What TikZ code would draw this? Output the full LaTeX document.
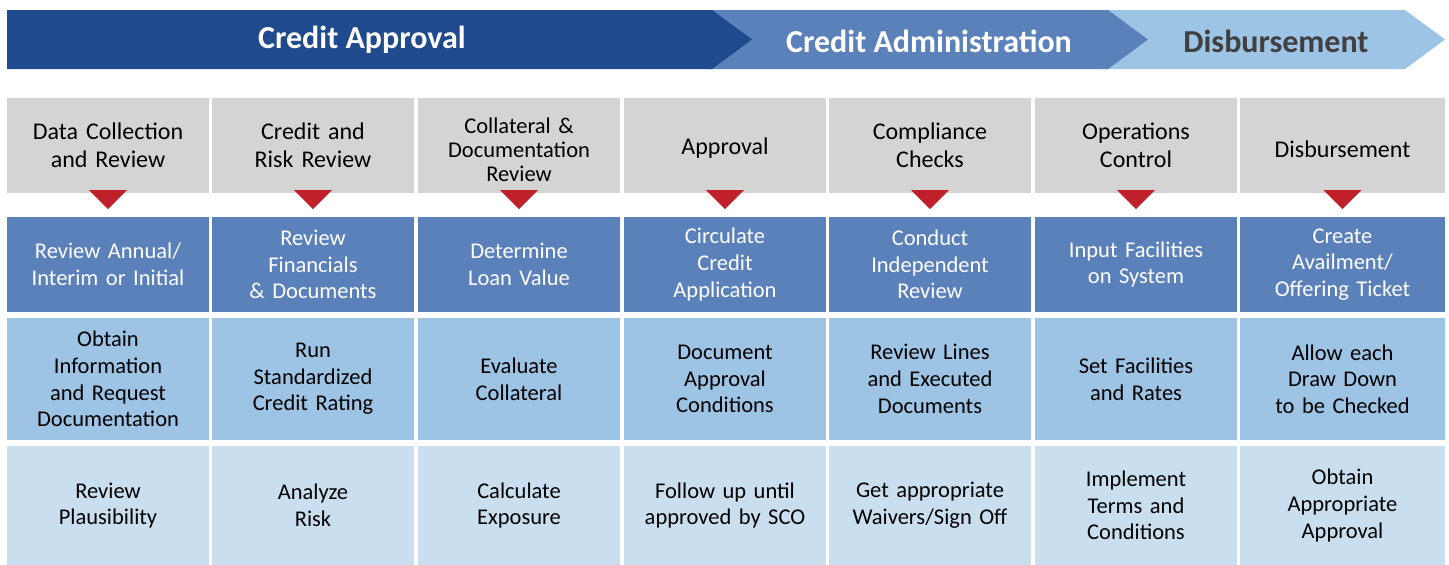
\documentclass[tikz,border=0pt]{standalone}
\usepackage{fontspec}
\setmainfont{Carlito}
\definecolor{bdark}{HTML}{1F4B8E}
\definecolor{bmid}{HTML}{5A81B9}
\definecolor{blight}{HTML}{9DC3E5}
\definecolor{rowthree}{HTML}{C9DFEF}
\definecolor{hgray}{HTML}{D4D4D4}
\definecolor{tred}{HTML}{C0202A}
\definecolor{dtext}{HTML}{404040}
\begin{document}
\begin{tikzpicture}[x=1pt,y=-1pt,
  cell/.style={inner sep=0pt, minimum width=202pt, text width=198pt, align=center, font=\fontsize{22.5}{26.7}\selectfont},
  hcell/.style={cell, fill=hgray, minimum height=95pt, text=black, font=\fontsize{24}{28.3}\selectfont},
  acell/.style={cell, fill=bmid, minimum height=95pt, text=white},
  bcell/.style={cell, fill=blight, minimum height=122pt, text=black},
  ccell/.style={cell, fill=rowthree, minimum height=119pt, text=black},
  banner/.style={font=\fontsize{32}{36}\selectfont\bfseries},
  redtri/.style={fill=tred}]
\useasboundingbox (0,0) rectangle (1449,565);
% banner
\fill[blight] (1100,10) -- (1405,10) -- (1445,39.5) -- (1405,69) -- (1100,69) -- cycle;
\fill[bmid] (705,10) -- (1108,10) -- (1148,39.5) -- (1108,69) -- (705,69) -- cycle;
\fill[bdark] (7,10) -- (712,10) -- (752,39.5) -- (712,69) -- (7,69) -- cycle;
\node[banner, text=white] (ph1) at (362,39.5) {Credit Approval};
\node[banner, text=white] (ph2) at (929,41) {Credit Administration};
\node[banner, text=dtext] (ph3) at (1276,41) {Disbursement};
% column 1
\node[hcell] (h1) at (108,145) {Data Collection\\and Review};
\node[acell] (a1) at (108,264.5) {Review Annual/\\Interim or Initial};
\node[bcell] (b1) at (108,379) {Obtain\\Information\\and Request\\Documentation};
\node[ccell] (c1) at (108,505.5) {Review\\Plausibility};
% column 2
\node[hcell] (h2) at (313,145) {Credit and\\Risk Review};
\node[acell] (a2) at (313,264.5) {Review\\Financials\\\& Documents};
\node[bcell] (b2) at (313,379) {Run\\Standardized\\Credit Rating};
\node[ccell] (c2) at (313,505.5) {Analyze\\Risk};
% column 3
\node[hcell, font=\fontsize{22.5}{24}\selectfont] (h3) at (519,145) {\rule{0pt}{25pt}Collateral \&\\Documentation\\Review};
\node[acell] (a3) at (519,264.5) {Determine\\Loan Value};
\node[bcell] (b3) at (519,379) {Evaluate\\Collateral};
\node[ccell] (c3) at (519,505.5) {Calculate\\Exposure};
% column 4
\node[hcell] (h4) at (725,145) {\rule{0pt}{23pt}Approval};
\node[acell] (a4) at (725,264.5) {Circulate\\Credit\\Application};
\node[bcell] (b4) at (725,379) {Document\\Approval\\Conditions};
\node[ccell] (c4) at (725,505.5) {Follow up until\\approved by SCO};
% column 5
\node[hcell] (h5) at (930,145) {Compliance\\Checks};
\node[acell] (a5) at (930,264.5) {Conduct\\Independent\\Review};
\node[bcell] (b5) at (930,379) {Review Lines\\and Executed\\Documents};
\node[ccell] (c5) at (930,505.5) {Get appropriate\\Waivers/Sign Off};
% column 6
\node[hcell] (h6) at (1136,145) {Operations\\Control};
\node[acell] (a6) at (1136,264.5) {Input Facilities\\on System};
\node[bcell] (b6) at (1136,379) {Set Facilities\\and Rates};
\node[ccell] (c6) at (1136,505.5) {Implement\\Terms and\\Conditions};
% column 7
\node[hcell, minimum width=205pt] (h7) at (1342.5,145) {\rule{0pt}{25pt}Disbursement};
\node[acell, minimum width=205pt] (a7) at (1342.5,264.5) {Create\\Availment/\\Offering Ticket};
\node[bcell, minimum width=205pt] (b7) at (1342.5,379) {Allow each\\Draw Down\\to be Checked};
\node[ccell, minimum width=205pt] (c7) at (1342.5,505.5) {Obtain\\Appropriate\\Approval};
% red triangles
\foreach \n in {h1,h2,h3,h4,h5,h6,h7}{
  \fill[redtri] ([shift={(-19,-2.5)}]\n.south) -- ([shift={(19,-2.5)}]\n.south) -- ([shift={(0,16.5)}]\n.south) -- cycle;
}
\end{tikzpicture}
\end{document}
